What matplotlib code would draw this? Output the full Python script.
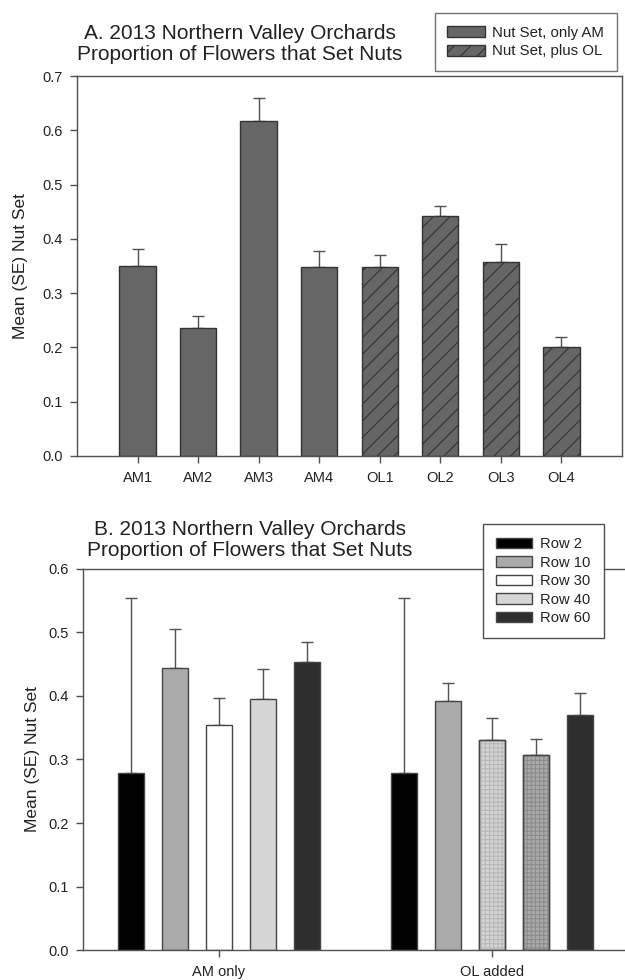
import numpy as np
import matplotlib
matplotlib.use("Agg")
import matplotlib.pyplot as plt
from matplotlib.patches import Patch

plt.rcParams['font.family'] = ['Liberation Sans', 'DejaVu Sans']
plt.rcParams['hatch.linewidth'] = 0.8

# Panel A: nut set per orchard block
block_labels = ['AM1', 'AM2', 'AM3', 'AM4', 'OL1', 'OL2', 'OL3', 'OL4']
block_mean = [0.350, 0.236, 0.618, 0.349, 0.348, 0.442, 0.357, 0.201]
block_se = [0.032, 0.022, 0.042, 0.029, 0.023, 0.018, 0.033, 0.018]
block_has_ol = [False, False, False, False, True, True, True, True]

# Panel B: nut set by row, per treatment
treatments = ['AM only', 'OL added']
rows = ['Row 2', 'Row 10', 'Row 30', 'Row 40', 'Row 60']
row_mean_am = [0.278, 0.4435, 0.355, 0.396, 0.454]
row_se_am = [0.277, 0.0615, 0.042, 0.047, 0.0305]
row_mean_ol = [0.278, 0.3915, 0.3305, 0.307, 0.370]
row_se_ol = [0.277, 0.0295, 0.0355, 0.026, 0.0345]

row_colors = ['#000000', '#aaaaaa', '#ffffff', '#d6d6d6', '#2e2e2e']
# OL bars for rows 30 and 40 are drawn stippled
ol_colors = ['#000000', '#aaaaaa', '#d4d4d4', '#a9a9a9', '#2e2e2e']
ol_stipple = [None, None, '#b8b8b8', '#8c8c8c', None]

axis_grey = '#505050'
text_col = '#222222'

fig = plt.figure(figsize=(6.25, 9.8), dpi=100)


def style_axis(ax):
    for s in ax.spines.values():
        s.set_color(axis_grey)
        s.set_linewidth(1.0)
    ax.tick_params(direction='out', length=5, width=1, color=axis_grey,
                   labelsize=10.5, labelcolor=text_col)
    ax.tick_params(axis='x', pad=6)
    ax.tick_params(axis='y', pad=5)


# ---- Panel A ----
axA = fig.add_axes([0.1232, 0.5347, 0.8720, 0.3877])
x = np.arange(len(block_labels))
for xi, m, se, ol in zip(x, block_mean, block_se, block_has_ol):
    axA.bar(xi, m, width=0.6, color='#666666', edgecolor='#333333',
            linewidth=1.0, hatch='//' if ol else None, zorder=2)
    axA.errorbar(xi, m, yerr=[[0], [se]], fmt='none', ecolor=axis_grey,
                 elinewidth=1.0, capsize=4.3, capthick=1.0, zorder=1)
axA.set_xlim(-1.0, 8.0)
axA.set_ylim(0, 0.7)
axA.set_xticks(x)
axA.set_xticklabels(block_labels)
axA.set_yticks(np.arange(0, 0.71, 0.1))
axA.set_yticklabels(['%.1f' % v for v in np.arange(0, 0.71, 0.1)])
style_axis(axA)
axA.set_ylabel('Mean (SE) Nut Set', fontsize=12.5, color=text_col)
axA.yaxis.set_label_coords(-0.09, 0.5)
fig.text(0.384, 0.955, 'A. 2013 Northern Valley Orchards\nProportion of Flowers that Set Nuts',
         ha='center', va='center', fontsize=15, color=text_col, linespacing=1.1)

handlesA = [Patch(facecolor='#666666', edgecolor='#333333', label='Nut Set, only AM'),
            Patch(facecolor='#666666', edgecolor='#333333', hatch='//', label='Nut Set, plus OL')]
legA = fig.legend(handles=handlesA, loc='upper right', bbox_to_anchor=(0.987, 0.9867),
                  fontsize=10.8, frameon=True, fancybox=False, edgecolor=axis_grey,
                  handlelength=2.5, handleheight=0.75, handletextpad=0.5,
                  labelspacing=0.3, borderpad=0.85, borderaxespad=0)
legA.get_frame().set_linewidth(1.0)
for t in legA.get_texts():
    t.set_color(text_col)

# ---- Panel B ----
axB = fig.add_axes([0.1328, 0.0306, 0.8672, 0.3888])
offsets = (np.arange(len(rows)) - 2) * 0.161
bw = 0.095
for gi, (means, ses, cols) in enumerate([(row_mean_am, row_se_am, row_colors),
                                         (row_mean_ol, row_se_ol, ol_colors)]):
    for k in range(len(rows)):
        xp = gi + offsets[k]
        axB.bar(xp, means[k], width=bw, color=cols[k], edgecolor='#444444',
                linewidth=1.0, zorder=2)
        if gi == 1 and ol_stipple[k] is not None:
            axB.bar(xp, means[k], width=bw, facecolor='none', edgecolor=ol_stipple[k],
                    linewidth=0, hatch='++++', zorder=3)
            axB.bar(xp, means[k], width=bw, facecolor='none', edgecolor='#444444',
                    linewidth=1.0, zorder=4)
        axB.errorbar(xp, means[k], yerr=[[0], [ses[k]]], fmt='none', ecolor=axis_grey,
                     elinewidth=1.0, capsize=4.3, capthick=1.0, zorder=1)
axB.set_xlim(-0.498, 1.487)
axB.set_ylim(0, 0.6)
axB.set_xticks([0, 1])
axB.set_xticklabels(treatments)
axB.set_yticks(np.arange(0, 0.61, 0.1))
axB.set_yticklabels(['%.1f' % v for v in np.arange(0, 0.61, 0.1)])
style_axis(axB)
axB.spines['right'].set_visible(False)
axB.set_ylabel('Mean (SE) Nut Set', fontsize=12.5, color=text_col)
axB.yaxis.set_label_coords(-0.08, 0.5)
fig.text(0.40, 0.449, 'B. 2013 Northern Valley Orchards\nProportion of Flowers that Set Nuts',
         ha='center', va='center', fontsize=15, color=text_col, linespacing=1.1)

handlesB = [Patch(facecolor=c, edgecolor='#444444', label=r) for c, r in zip(row_colors, rows)]
legB = fig.legend(handles=handlesB, loc='upper right', bbox_to_anchor=(0.9664, 0.4653),
                  fontsize=10.6, frameon=True, fancybox=False, edgecolor=axis_grey,
                  handlelength=2.4, handleheight=0.7, handletextpad=0.6,
                  labelspacing=0.3, borderpad=0.9, borderaxespad=0, framealpha=1)
legB.get_frame().set_linewidth(1.0)
for t in legB.get_texts():
    t.set_color(text_col)

fig.savefig('out.png', dpi=100, facecolor='white')
